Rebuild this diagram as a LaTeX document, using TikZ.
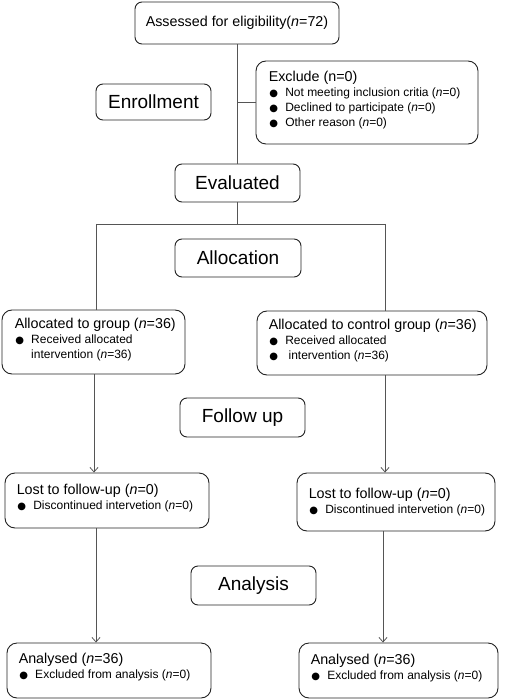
\documentclass[tikz,border=0pt]{standalone}
\usepackage{fontspec}
\setmainfont{Liberation Sans}
\newfontfamily\dejavu{DejaVu Sans}
\usetikzlibrary{arrows.meta}
\newcommand\bl{\hspace*{0.5pt}\makebox[16pt][l]{\dejavu\fontsize{10}{10}\selectfont ●}}
\newcommand\nn{\textit{n}}
\newcommand\hd[1]{{\fontsize{14.3}{14.5}\selectfont #1}}
\definecolor{boxc}{HTML}{222222}
\definecolor{linec}{HTML}{555555}
\begin{document}
\begin{tikzpicture}[x=1pt,y=-1pt,
  box/.style={draw=boxc, line width=0.9pt, rounded corners=7pt, inner sep=0pt},
  bigbox/.style={box, rounded corners=10pt},
  stage/.style={box, font=\fontsize{19}{19}\selectfont},
  txt/.style={align=left, inner sep=0pt, anchor=west, font=\fontsize{12}{15}\selectfont, text=black},
  ln/.style={draw=linec, line width=0.8pt},
  arr/.style={ln, -{Straight Barb[length=4.5pt,width=8pt]}}]
\useasboundingbox (0,0) rectangle (505,700);
\fill[white] (0,0) rectangle (505,700);

% boxes
\node[box, minimum width=204pt, minimum height=42pt, font=\fontsize{14.3}{14.5}\selectfont] (assess) at (237,23) {Assessed for eligibility(\nn=72)};
\node[bigbox, minimum width=222pt, minimum height=83pt] (excl) at (367,102.5) {};
\node[stage, minimum width=115pt, minimum height=36pt] (enroll) at (153.5,102) {Enrollment};
\node[stage, minimum width=125pt, minimum height=38pt] (eval) at (237.5,183) {Evaluated};
\node[stage, minimum width=126pt, minimum height=38pt] (alloc) at (238,258) {Allocation};
\node[bigbox, minimum width=183pt, minimum height=64pt] (allocL) at (93.5,342) {};
\node[bigbox, minimum width=230pt, minimum height=64pt] (allocR) at (372,343) {};
\node[stage, minimum width=125pt, minimum height=39pt] (follow) at (242.5,417.5) {Follow up};
\node[bigbox, minimum width=204pt, minimum height=55pt] (lostL) at (107,500.5) {};
\node[bigbox, minimum width=198pt, minimum height=58pt] (lostR) at (396,502) {};
\node[stage, minimum width=125pt, minimum height=39pt] (analysis) at (253.5,585.5) {Analysis};
\node[bigbox, minimum width=204pt, minimum height=55pt] (analL) at (109,670.5) {};
\node[bigbox, minimum width=199pt, minimum height=55pt] (analR) at (398.5,670.5) {};

% texts
\node[txt] (exclT) at ([xshift=13pt,yshift=2pt]excl.west) {\hd{Exclude (n=0)}\\ \bl Not meeting inclusion critia (\nn=0)\\ \bl Declined to participate (\nn=0)\\ \bl Other reason (\nn=0)};
\node[txt] (allocLT) at ([xshift=13pt,yshift=2.5pt]allocL.west) {\hd{Allocated to group (\nn=36)}\\ \bl Received allocated\\ \hspace*{16.5pt}intervention (\nn=36)};
\node[txt] (allocRT) at ([xshift=12pt,yshift=2.5pt]allocR.west) {\hd{Allocated to control group (\nn=36)}\\ \bl Received allocated\\ \bl\ intervention (\nn=36)};
\node[txt] (lostLT) at ([xshift=12pt,yshift=2.5pt]lostL.west) {\hd{Lost to follow-up (\nn=0)}\\ \bl Discontinued intervetion (\nn=0)};
\node[txt] (lostRT) at ([xshift=12pt,yshift=0pt]lostR.west) {\hd{Lost to follow-up (\nn=0)}\\ \bl Discontinued intervetion (\nn=0)};
\node[txt] (analLT) at ([xshift=12pt,yshift=3pt]analL.west) {\hd{Analysed (\nn=36)}\\ \bl Excluded from analysis (\nn=0)};
\node[txt] (analRT) at ([xshift=12pt,yshift=2pt]analR.west) {\hd{Analysed (\nn=36)}\\ \bl Excluded from analysis (\nn=0)};

% connectors
\coordinate (jL) at (96,224);
\coordinate (jR) at (385,224);
\coordinate (aL1) at (94,0);
\coordinate (aL2) at (96,0);
\coordinate (aR2) at (383,0);
\draw[ln] (assess.south) -- (assess.south |- eval.north);
\draw[ln] (assess.south |- excl.west) -- (excl.west);
\draw[ln] (eval.south) -- (eval.south |- jL);
\draw[ln] (jL) -- (jR);
\draw[ln] (jL) -- (jL |- allocL.north);
\draw[ln] (jR) -- (jR |- allocR.north);
\draw[arr] (aL1 |- allocL.south) -- (aL1 |- lostL.north);
\draw[arr] (jR |- allocR.south) -- (jR |- lostR.north);
\draw[arr] (aL2 |- lostL.south) -- (aL2 |- analL.north);
\draw[arr] (aR2 |- lostR.south) -- (aR2 |- analR.north);
\end{tikzpicture}
\end{document}
